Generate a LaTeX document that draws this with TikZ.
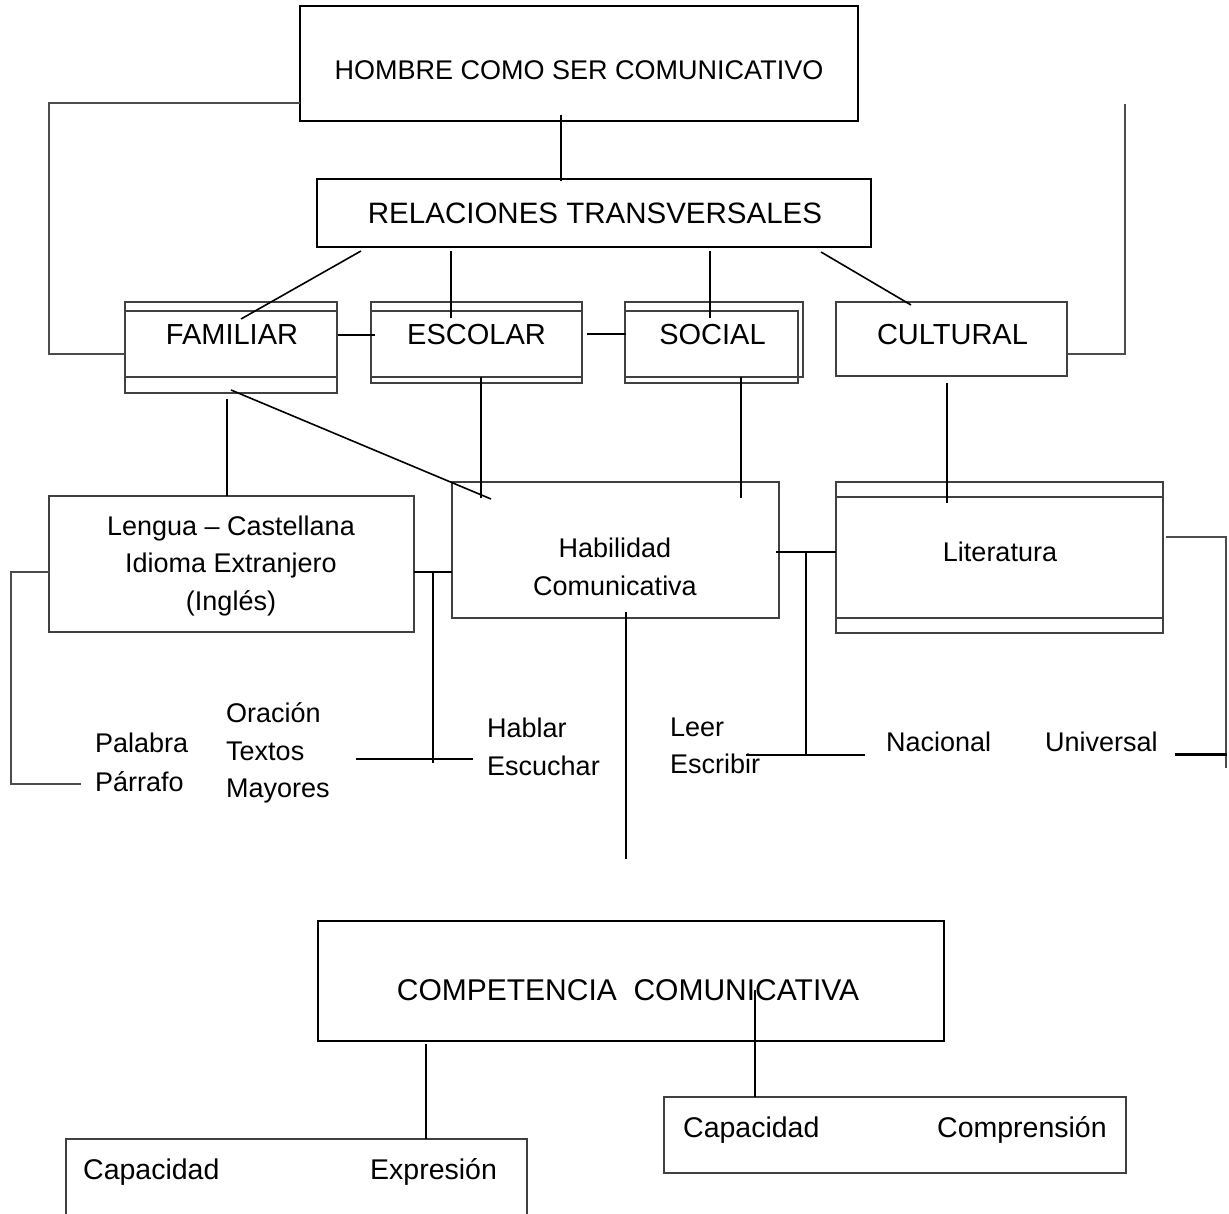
\documentclass[tikz,border=0pt]{standalone}
\usepackage{fontspec}
\setmainfont{Liberation Sans}
\usetikzlibrary{calc}
\tikzset{
  box/.style={draw=black!75, line width=1.2pt, rectangle, inner sep=0pt, outer sep=0pt, anchor=north west},
  boxk/.style={box, draw=black, line width=2pt},
  strip/.style={draw=black!75, line width=1.2pt},
  conn/.style={draw=black, line width=1.6pt},
  thinc/.style={draw=black!70, line width=1.2pt},
  thick3/.style={draw=black, line width=3pt},
  capt/.style={inner sep=0pt, font=\fontsize{29}{35}\selectfont},
  lowt/.style={inner sep=0pt, font=\fontsize{27}{37.5}\selectfont},
  lowl/.style={lowt, anchor=west, align=left},
  bigl/.style={inner sep=0pt, anchor=west, font=\fontsize{28.5}{34}\selectfont},
}
\begin{document}
\begin{tikzpicture}[x=1pt,y=-1pt]
\useasboundingbox (0,0) rectangle (1229,1214);

% boxes
\node[box, draw=black, line width=1.4pt, minimum width=558pt, minimum height=115pt] (hombre) at (300,6) {};
\node[boxk, minimum width=554pt, minimum height=68pt] (rel) at (317,179) {};
\node[box, minimum width=212pt, minimum height=91pt] (fam) at (125,302) {};
\node[box, minimum width=211pt, minimum height=81pt] (esc) at (371,302) {};
\node[box, minimum width=178pt, minimum height=75pt] (soc) at (625,302) {};
\node[box, minimum width=231pt, minimum height=74pt] (cult) at (836,302) {};
\node[box, minimum width=365pt, minimum height=136pt] (leng) at (49,496) {};
\node[box, minimum width=327pt, minimum height=136pt] (hab) at (452,482) {};
\node[box, minimum width=327pt, minimum height=151pt] (lit) at (836,482) {};
\node[box, draw=black, line width=1.6pt, minimum width=626pt, minimum height=120pt] (comp) at (318,921) {};
\node[box, minimum width=461pt, minimum height=120pt] (expr) at (66,1139) {};
\node[box, minimum width=462pt, minimum height=76pt] (compr) at (664,1097) {};

% inner strips
\draw[strip] ([yshift=-9pt]fam.north west) -- ([yshift=-9pt]fam.north east);
\draw[strip] ([yshift=16pt]fam.south west) -- ([yshift=16pt]fam.south east);
\draw[strip] ([yshift=-9pt]esc.north west) -- ([yshift=-9pt]esc.north east);
\draw[strip] ([yshift=6pt]esc.south west) -- ([yshift=6pt]esc.south east);
\draw[strip] ([yshift=-9pt]soc.north west) -- ([xshift=-5pt,yshift=-9pt]soc.north east)
   -- ([xshift=-5pt,yshift=-6pt]soc.south east) -- ([yshift=-6pt]soc.south west) -- (soc.south west);
\draw[strip] ([yshift=-15pt]lit.north west) -- ([yshift=-15pt]lit.north east);
\draw[strip] ([yshift=15pt]lit.south west) -- ([yshift=15pt]lit.south east);

% texts
\node[inner sep=0pt, font=\fontsize{27}{33}\selectfont] (thombre) at (579,70) {HOMBRE COMO SER COMUNICATIVO};
\node[inner sep=0pt, font=\fontsize{29.5}{35}\selectfont] (trel) at (595,213) {RELACIONES TRANSVERSALES};
\node[capt] (tfam) at (232,335) {FAMILIAR};
\node[capt] (tesc) at (476.5,335) {ESCOLAR};
\node[capt] (tsoc) at (712.5,335) {SOCIAL};
\node[capt] (tcult) at (952.5,335) {CULTURAL};
\node[lowt, align=center] (tleng) at (231,566) {Lengua – Castellana\\Idioma Extranjero\\(Inglés)};
\node[lowt, align=center] (thab) at (615,567) {Habilidad\\Comunicativa};
\node[lowt] (tlit) at (1000,552) {Literatura};
\node[lowl, font=\fontsize{27}{39}\selectfont] (tpal) at (95,762) {Palabra\\Párrafo};
\node[lowl] (tora) at (226,753) {Oración\\Textos\\Mayores};
\node[lowl] (thabl) at (487,747) {Hablar\\Escuchar};
\node[lowl] (tleer) at (670,746) {Leer\\Escribir};
\node[lowl] (tnac) at (886,742) {Nacional};
\node[lowl] (tuni) at (1045,742) {Universal};
\node[inner sep=0pt, font=\fontsize{30}{36}\selectfont] (tcomp) at (628,990) {COMPETENCIA\ \ COMUNICATIVA};
\node[bigl] (tcap1) at (83,1172) {Capacidad};
\node[bigl] (texp) at (370,1172) {Expresión};
\node[bigl] (tcap2) at (683,1130) {Capacidad};
\node[bigl] (tcompr) at (937,1130) {Comprensión};

% connectors
\draw[conn] ([xshift=-18pt,yshift=6pt]hombre.south) -- ([xshift=-33pt,yshift=-2pt]rel.north);
\draw[thinc] ([yshift=-39.5pt]hombre.west) -- ++(-251,0) |- ([yshift=-6.5pt]fam.west);
\coordinate (rtop) at (1125,104);
\draw[thinc] (rtop) |- ([yshift=-15pt]cult.east);
\draw[conn] ([xshift=44pt,yshift=-4pt]rel.south west) -- ([xshift=116pt,yshift=-17pt]fam.north west);
\draw[conn] ([xshift=134pt,yshift=-4pt]rel.south west) -- ([xshift=80pt,yshift=-16pt]esc.north west);
\draw[conn] ([xshift=393pt,yshift=-4pt]rel.south west) -- ([xshift=85pt,yshift=-16pt]soc.north west);
\draw[conn] ([xshift=504pt,yshift=-5pt]rel.south west) -- ([xshift=75pt,yshift=-3pt]cult.north west);
\draw[conn] ([xshift=1pt,yshift=12.5pt]fam.east) -- ([xshift=4pt,yshift=7.5pt]esc.west);
\draw[conn] ([xshift=5pt,yshift=8.5pt]esc.east) -- ([xshift=1pt,yshift=5.5pt]soc.west);
\draw[conn] ([xshift=-4pt,yshift=-6pt]fam.south) -- ([xshift=-4.5pt]leng.north);
\draw[conn] ([yshift=3pt]fam.south) -- ([xshift=39pt,yshift=-17pt]hab.north west);
\draw[conn] ([xshift=4.5pt,yshift=6pt]esc.south) -- ([xshift=29pt,yshift=-16pt]hab.north west);
\draw[conn] ([xshift=27pt]soc.south) -- ([xshift=289pt,yshift=-16pt]hab.north west);
\draw[conn] ([xshift=-4.5pt,yshift=-7pt]cult.south) -- ([xshift=111pt,yshift=-21pt]lit.north west);
\draw[thinc] ([yshift=-8pt]leng.west) -- ++(-38,0) |- ([xshift=-14pt,yshift=-22pt]tpal.west);
\draw[conn] ([yshift=-8pt]leng.east) -- ([yshift=-22pt]hab.west);
\draw[conn] ([xshift=19pt,yshift=-8pt]leng.east) -- ++(0,191);
\draw[conn] ([xshift=-14pt,yshift=-12pt]thabl.west) -- ++(-117,0);
\draw[conn] ([xshift=10.5pt,yshift=6pt]hab.south) -- ++(0,247);
\draw[conn] ([xshift=-3pt,yshift=-2pt]hab.east) -- ([yshift=5.5pt]lit.west);
\draw[conn] ([xshift=-30pt,yshift=5.5pt]lit.west) -- ++(0,203);
\draw[conn] ([xshift=-21pt,yshift=-13pt]tnac.west) -- ++(-119,0);
\draw[thinc] ([xshift=3pt,yshift=20.5pt]lit.east) -- ++(60,0) -- ++(0,231);
\draw[thick3] ([xshift=17pt,yshift=-12pt]tuni.east) -- ++(52,0);
\draw[conn] ([xshift=108pt,yshift=-3pt]comp.south west) -- ([xshift=360pt]expr.north west);
\draw[conn] ([xshift=437pt,yshift=51pt]comp.south west) -- ([xshift=91pt]compr.north west);
\end{tikzpicture}
\end{document}
